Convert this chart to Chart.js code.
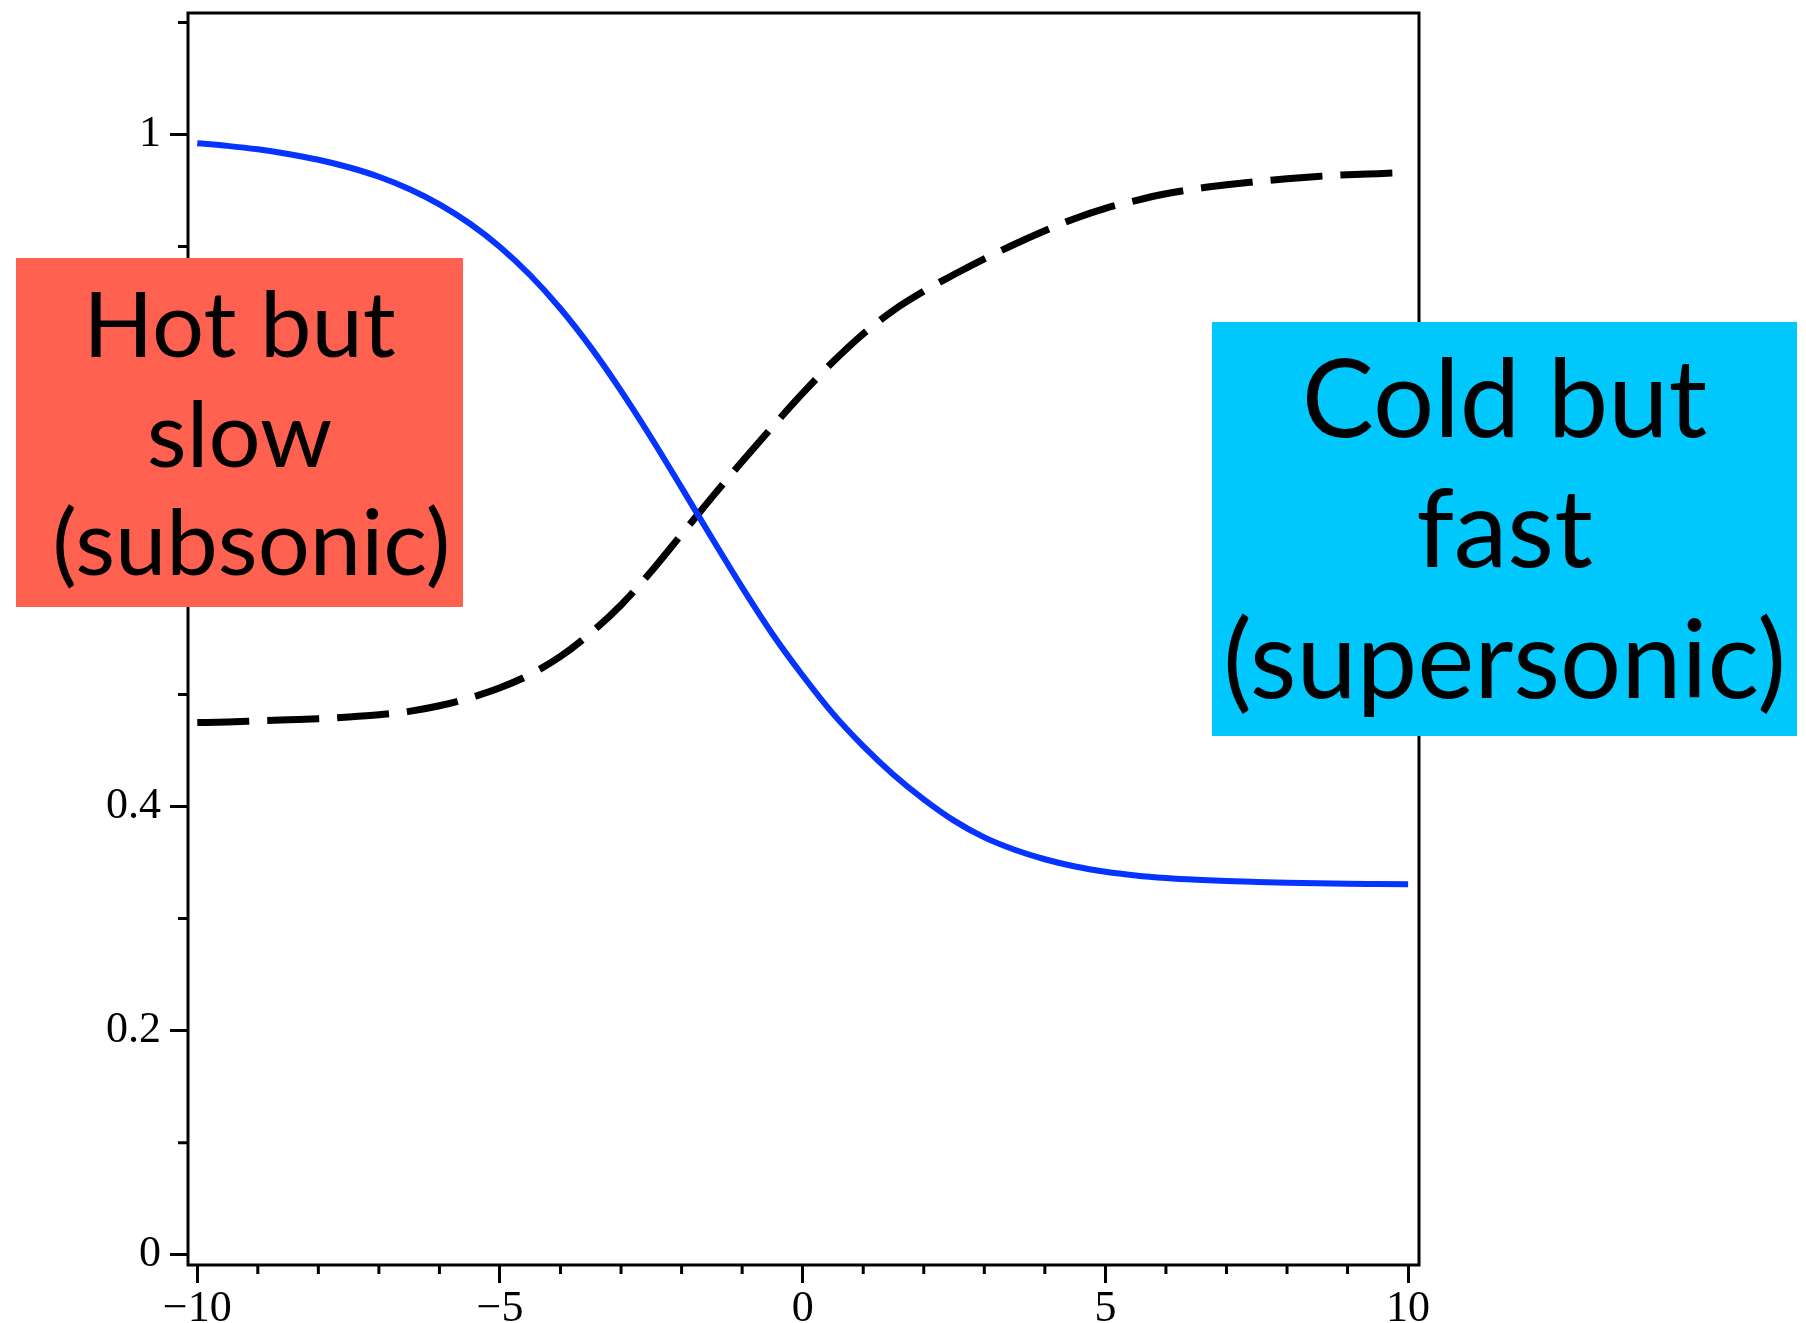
<!DOCTYPE html>
<html>
<head>
<meta charset="utf-8">
<title>Hot but slow / Cold but fast</title>
<script src="https://cdn.jsdelivr.net/npm/chart.js@4.4.1/dist/chart.umd.min.js"></script>
<style>
  html, body { margin: 0; padding: 0; background: #fff; }
  canvas { display: block; }
</style>
</head>
<body>
<canvas id="chartFlowCanvas" width="1806" height="1323"></canvas>
<script>
// x positions shared by both curves (step 0.5)
const xValues = [-10, -9.5, -9, -8.5, -8, -7.5, -7, -6.5, -6, -5.5, -5, -4.5, -4, -3.5, -3, -2.5, -2, -1.5, -1, -0.5,
                 0, 0.5, 1, 1.5, 2, 2.5, 3, 3.5, 4, 4.5, 5, 5.5, 6, 6.5, 7, 7.5, 8, 8.5, 9, 9.5, 10];
// solid blue curve
const blueValues = [0.9922, 0.9898, 0.9867, 0.9826, 0.9774, 0.9707, 0.9622, 0.9513, 0.9376, 0.9205, 0.8996, 0.8743, 0.8444, 0.8099, 0.7711, 0.7290, 0.6847, 0.6397, 0.5957, 0.5541,
                    0.5170, 0.4830, 0.4540, 0.4285, 0.4065, 0.3875, 0.3725, 0.3615, 0.3530, 0.3465, 0.3418, 0.3385, 0.3362, 0.3346, 0.3335, 0.3327, 0.3320, 0.3315, 0.3311, 0.3309, 0.3307];
// dashed black curve
const dashValues = [0.4750, 0.4755, 0.4765, 0.4775, 0.4785, 0.4800, 0.4820, 0.4850, 0.4900, 0.4970, 0.5060, 0.5180, 0.5340, 0.5550, 0.5800, 0.6100, 0.6430, 0.6760, 0.7080, 0.7390,
                    0.7690, 0.7970, 0.8220, 0.8430, 0.8600, 0.8750, 0.8890, 0.9020, 0.9140, 0.9250, 0.9340, 0.9410, 0.9470, 0.9515, 0.9550, 0.9580, 0.9605, 0.9625, 0.9640, 0.9650, 0.9660];

// ticks
const xMajorTicks = [-10, -5, 0, 5, 10];
const xTickLabels = ['\u221210', '\u22125', '0', '5', '10'];
const xMinorTicks = [-9, -8, -7, -6, -4, -3, -2, -1, 1, 2, 3, 4, 6, 7, 8, 9];
const yMajorTicks = [0, 0.2, 0.4, 0.6, 0.8, 1];
const yTickLabels = ['0', '0.2', '0.4', '0.6', '0.8', '1'];
const yMinorTicks = [0.1, 0.3, 0.5, 0.7, 0.9, 1.1];

// text of the two labels
const hotLines = ['Hot but', 'slow', ' (subsonic)'];
const coldLines = ['Cold but', 'fast', '(supersonic)'];

const tickFont = { family: "'Liberation Serif', 'Times New Roman', serif", size: 44 };

// label boxes (page pixels)
const labelBoxes = [
  { lines: hotLines, fill: '#FF6151', left: 16, top: 258, right: 463, bottom: 607, fontSize: 92, baselines: [357, 467, 575] },
  { lines: coldLines, fill: '#00C8FC', left: 1212, top: 322, right: 1797, bottom: 736, fontSize: 108, baselines: [437, 567, 698] }
];

document.addEventListener('DOMContentLoaded', function() {
  buildFlowChart();
});

//marco, ticks menores y cajas de texto
const decorPlugin = {
  id: 'decor',
  afterDraw(chart) {
    const ctx = chart.ctx;
    const a = chart.chartArea;
    const xs = chart.scales.x;
    const ys = chart.scales.y;
    ctx.save();
    ctx.strokeStyle = '#000';
    ctx.lineWidth = 3;
    ctx.strokeRect(a.left, a.top, a.right - a.left, a.bottom - a.top);

    ctx.beginPath();
    xMinorTicks.forEach(function(v) {
      let px = xs.getPixelForValue(v);
      ctx.moveTo(px, a.bottom);
      ctx.lineTo(px, a.bottom + 9);
    });
    yMinorTicks.forEach(function(v) {
      let py = ys.getPixelForValue(v);
      ctx.moveTo(a.left, py);
      ctx.lineTo(a.left - 10, py);
    });
    ctx.stroke();

    labelBoxes.forEach(function(b) {
      ctx.fillStyle = b.fill;
      ctx.fillRect(b.left, b.top, b.right - b.left, b.bottom - b.top);
      ctx.fillStyle = '#000';
      ctx.font = b.fontSize + 'px Lato, "Open Sans", sans-serif';
      ctx.textAlign = 'center';
      ctx.textBaseline = 'alphabetic';
      let cx = (b.left + b.right) / 2;
      for (let i = 0; i < b.lines.length; i++) {
        ctx.fillText(b.lines[i], cx, b.baselines[i]);
      }
    });
    ctx.restore();
  }
};

function buildFlowChart() {

  let bluePoints = [];
  let dashPoints = [];
  for (let i = 0; i < xValues.length; i++) {
    bluePoints.push({ x: xValues[i], y: blueValues[i] });
    dashPoints.push({ x: xValues[i], y: dashValues[i] });
  }

  const data = {
    datasets: [
      {
        label: 'solid',
        data: bluePoints,
        borderColor: '#0533FF',
        borderWidth: 6,
        pointRadius: 0,
        cubicInterpolationMode: 'monotone',
        borderCapStyle: 'butt'
      },
      {
        label: 'dashed',
        data: dashPoints,
        borderColor: '#000000',
        borderWidth: 7,
        borderDash: [52, 18],
        pointRadius: 0,
        cubicInterpolationMode: 'monotone',
        borderCapStyle: 'butt'
      }
    ]
  };

  const config = {
    type: 'line',
    data: data,
    plugins: [decorPlugin],
    options: {
      responsive: false,
      animation: false,
      devicePixelRatio: 1,
      layout: { padding: { left: 0, top: 13, right: 387, bottom: 0 } },
      plugins: {
        legend: { display: false },
        tooltip: { enabled: false }
      },
      scales: {
        x: {
          type: 'linear',
          min: -10.153,
          max: 10.18,
          afterBuildTicks: function(scale) {
            scale.ticks = xMajorTicks.map(v => ({ value: v }));
          },
          afterFit: function(scale) {
            scale.height = 58;
            scale.paddingLeft = 0;
            scale.paddingRight = 0;
          },
          border: { display: false },
          grid: { display: true, drawOnChartArea: false, drawTicks: true, tickLength: 18, tickWidth: 3, tickColor: '#000' },
          ticks: {
            font: tickFont,
            color: '#000',
            padding: 0,
            maxRotation: 0,
            autoSkip: false,
            callback: function(value) { return xTickLabels[xMajorTicks.indexOf(value)]; }
          }
        },
        y: {
          type: 'linear',
          min: -0.0092,
          max: 1.1084,
          afterBuildTicks: function(scale) {
            scale.ticks = yMajorTicks.map(v => ({ value: v }));
          },
          afterFit: function(scale) {
            scale.width = 188;
            scale.paddingTop = 0;
            scale.paddingBottom = 0;
          },
          border: { display: false },
          grid: { display: true, drawOnChartArea: false, drawTicks: true, tickLength: 18, tickWidth: 3, tickColor: '#000' },
          ticks: {
            font: tickFont,
            color: '#000',
            padding: 9,
            autoSkip: false,
            callback: function(value) { return yTickLabels[yMajorTicks.indexOf(value)]; }
          }
        }
      }
    }
  };

  const canvas = document.getElementById('chartFlowCanvas');
  return new Chart(canvas, config);
}
</script>
</body>
</html>
